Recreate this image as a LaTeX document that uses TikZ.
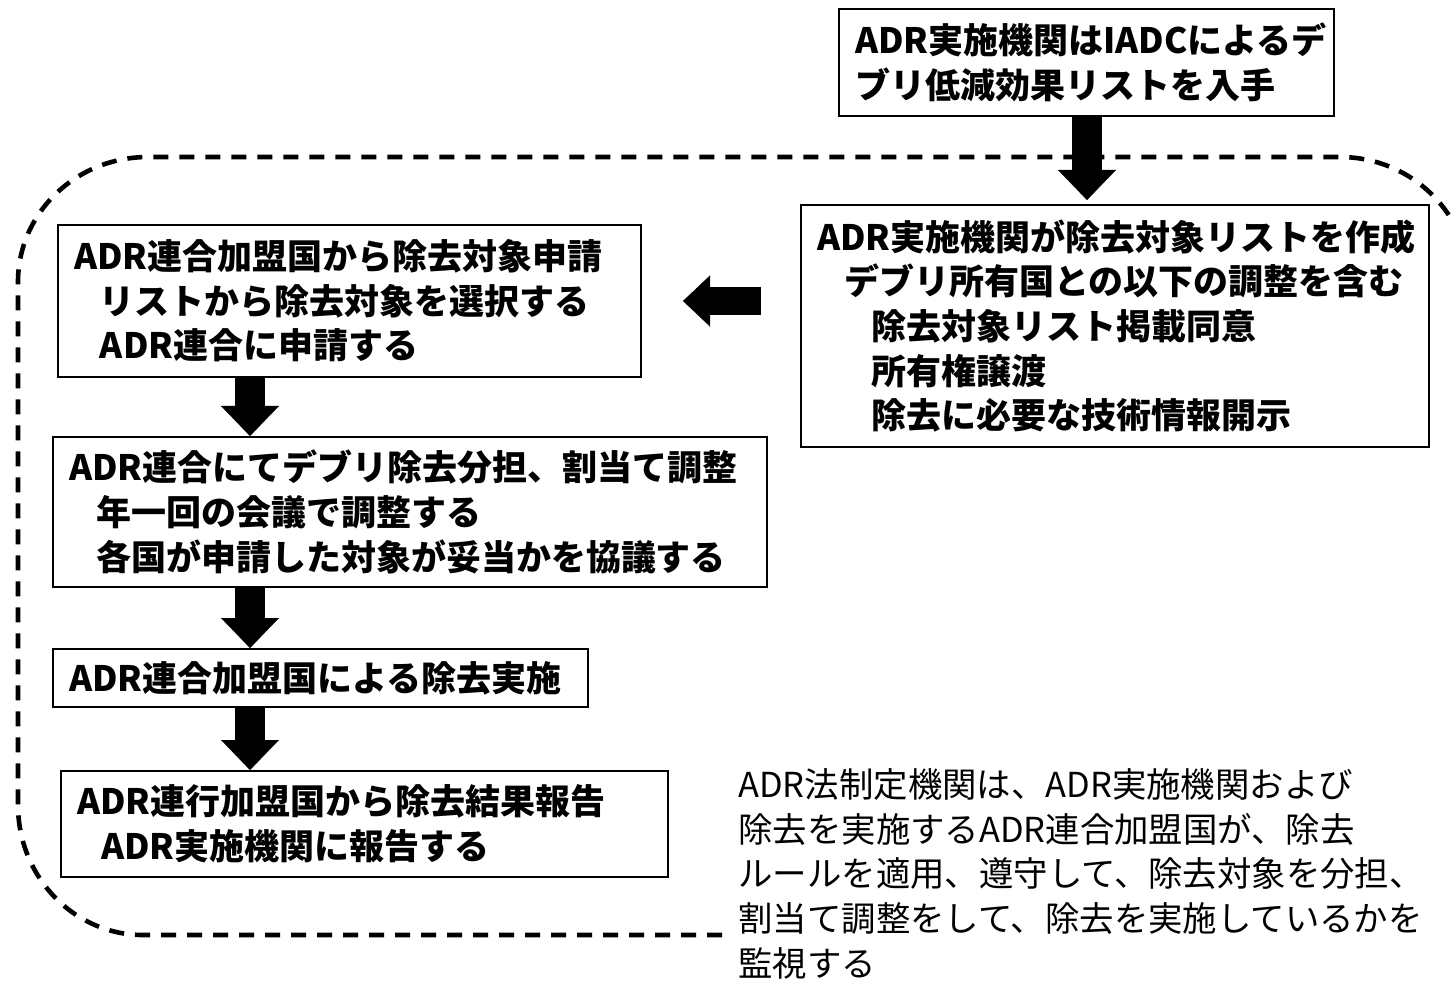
\documentclass[tikz,border=0pt]{standalone}
\usepackage{fontspec}
\setmainfont{Noto Sans CJK JP}
\usetikzlibrary{arrows.meta}
\begin{document}
\begin{tikzpicture}[x=0.5pt,y=-0.5pt,
  box/.style={draw=black, line width=1pt, rectangle, align=left, anchor=north west,
    inner xsep=8pt, inner ysep=1pt,
    font=\bfseries\fontsize{17.5}{22.3}\selectfont},
  bigarrow/.style={line width=15pt, -{Triangle[length=15pt,width=29pt,line width=0.1pt]}},
  leftarrow/.style={line width=14pt, -{Triangle[length=13.5pt,width=25.5pt,line width=0.1pt]}},
  boundary/.style={line width=2.3pt, dash pattern=on 7.5pt off 5.5pt},
  note/.style={align=left, anchor=north west, inner sep=0pt,
    font=\fontsize{17.2}{22.4}\selectfont}]
\useasboundingbox (0,0) rectangle (1452,984);

% dashed boundary
\draw[boundary] (722,935) -- (143,935)
  .. controls (74,935) and (18,877) .. (18,805)
  -- (18,282)
  .. controls (18,213) and (76,157) .. (148,157)
  -- (1340,157)
  .. controls (1410,157) and (1470,212) .. (1470,287)
  -- (1470,1100);

% boxes
\node[box, text width=231.5pt, minimum height=53.5pt] (b1) at (838,8)
  {ADR実施機関はIADCによるデ\\ブリ低減効果リストを入手};
\node[box, text width=298pt, minimum height=121pt] (b2) at (800,204)
  {ADR実施機関が除去対象リストを作成\\
   \hspace*{13.5pt}デブリ所有国との以下の調整を含む\\
   \hspace*{27pt}除去対象リスト掲載同意\\
   \hspace*{27pt}所有権譲渡\\
   \hspace*{27pt}除去に必要な技術情報開示};
\node[box, text width=275.5pt, minimum height=76pt] (b3) at (57,224)
  {ADR連合加盟国から除去対象申請\\
   \hspace*{13pt}リストから除去対象を選択する\\
   \hspace*{13pt}ADR連合に申請する};
\node[box, text width=341pt, minimum height=75pt] (b4) at (52,436)
  {ADR連合にてデブリ除去分担、割当て調整\\
   \hspace*{13.5pt}年一回の会議で調整する\\
   \hspace*{13.5pt}各国が申請した対象が妥当かを協議する};
\node[box, text width=251.5pt, minimum height=29pt] (b5) at (52,648)
  {ADR連合加盟国による除去実施};
\node[box, text width=287.5pt, minimum height=53pt] (b6) at (60,770)
  {ADR連行加盟国から除去結果報告\\
   \hspace*{12pt}ADR実施機関に報告する};

% note text
\node[note] (n1) at (738,768)
  {ADR法制定機関は、ADR実施機関および\\
   除去を実施するADR連合加盟国が、除去\\
   ルールを適用、遵守して、除去対象を分担、\\
   割当て調整をして、除去を実施しているかを\\
   監視する};

% arrows
\coordinate (ax) at (250,0);
\coordinate (tx) at (1087,0);
\draw[bigarrow] (tx |- b1.south) -- ([yshift=2pt]tx |- b2.north);
\draw[leftarrow] ([xshift=-19.5pt]b2.west |- b3.east) -- ([xshift=20.5pt]b3.east);
\draw[bigarrow] (ax |- b3.south) -- (ax |- b4.north);
\draw[bigarrow] (ax |- b4.south) -- (ax |- b5.north);
\draw[bigarrow] (ax |- b5.south) -- (ax |- b6.north);
\end{tikzpicture}
\end{document}
